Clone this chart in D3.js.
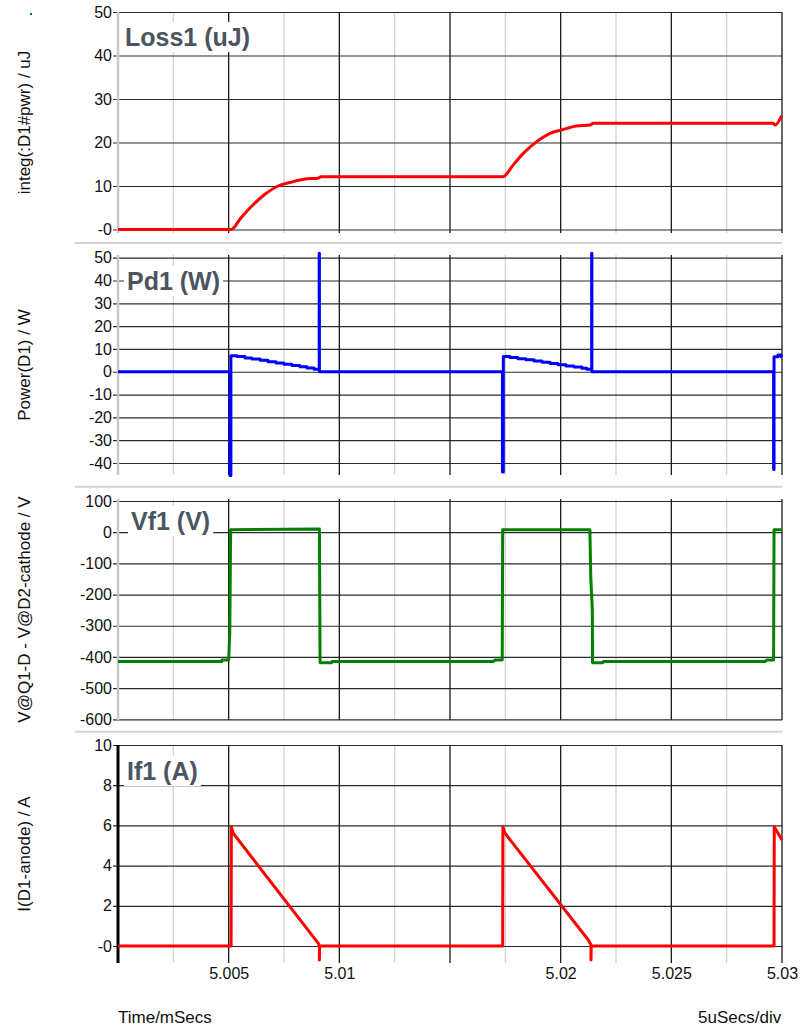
<!DOCTYPE html>
<html>
<head>
<meta charset="utf-8">
<script src="https://cdn.jsdelivr.net/npm/d3@7"></script>
<style>
  html, body { margin: 0; padding: 0; background: #fff; }
  svg { display: block; font-family: "Liberation Sans", Arial, sans-serif; }
</style>
</head>
<body>
<svg id="chart" width="808" height="1028"></svg>
<script>
// ---- time axis (ms) ----
const timeDomain = [5.000, 5.030];
const majorTimes = [5.005, 5.010, 5.015, 5.020, 5.025, 5.030];
const minorTimes = [5.0025, 5.0075, 5.0125, 5.0175, 5.0225, 5.0275];
const timeLabels = [5.005, 5.01, 5.02, 5.025, 5.03];

// ---- Loss1: integrated diode power (uJ) ----
const lossTicks = [0, 10, 20, 30, 40, 50];
const lossTickLabels = ["-0", "10", "20", "30", "40", "50"];
const lossTime = [5.00000, 5.00511, 5.00556, 5.00605, 5.00664, 5.00723, 5.00777, 5.00845, 5.00904, 5.00917,
                  5.01738, 5.01785, 5.01831, 5.01892, 5.01952, 5.02005, 5.02072, 5.02133, 5.02147,
                  5.02961, 5.02968, 5.02999];
const lossValue = [0, 0, 2.7, 5.4, 8.1, 10.0, 10.8, 11.6, 11.8, 12.1,
                   12.1, 14.8, 17.5, 20.2, 22.1, 22.9, 23.8, 24.0, 24.4,
                   24.4, 24.0, 26.2];

// ---- Pd1: diode power (W), held between samples ----
const pdTicks = [-40, -30, -20, -10, 0, 10, 20, 30, 40, 50];
const pdTickLabels = ["-40", "-30", "-20", "-10", "0", "10", "20", "30", "40", "50"];
const pdTime = [5.00000, 5.00506, 5.00510, 5.00538, 5.00574, 5.00605, 5.00642, 5.00678, 5.00714, 5.00750,
                5.00786, 5.00822, 5.00854, 5.00886, 5.00909, 5.00910,
                5.01737, 5.01741, 5.01771, 5.01807, 5.01843, 5.01880, 5.01916, 5.01952, 5.01988,
                5.02024, 5.02060, 5.02096, 5.02118, 5.02140, 5.02141,
                5.02962, 5.02964, 5.02982, 5.02996, 5.03000];
const pdValue = [0, -45.5, 7.0, 6.64, 6.07, 5.57, 5.0, 4.43, 3.86, 3.29,
                 2.71, 2.14, 1.64, 1.14, 52, 0,
                 -43.9, 6.7, 6.27, 5.74, 5.21, 4.68, 4.15, 3.63, 3.10,
                 2.57, 2.04, 1.51, 1.1, 52, 0,
                 -42.8, 6.6, 7.3, 6.6, 6.6];

// ---- Vf1: diode voltage (V) ----
const vfTicks = [-600, -500, -400, -300, -200, -100, 0, 100];
const vfTickLabels = ["-600", "-500", "-400", "-300", "-200", "-100", "0", "100"];
const vfTime = [5.00000, 5.00469, 5.00470, 5.00500, 5.00505, 5.00509, 5.00908, 5.00910, 5.00913, 5.00920,
                5.00965, 5.00967, 5.01695, 5.01703, 5.01736, 5.01738, 5.02132, 5.02136, 5.02143, 5.02144,
                5.02190, 5.02193, 5.02923, 5.02931, 5.02962, 5.02964, 5.03000];
const vfValue = [-415, -415, -410, -410, -320, 8, 10, 10, -418, -419,
                 -419, -415, -415, -410, -410, 8, 8, -144, -250, -419,
                 -419, -415, -415, -410, -410, 8, 8];

// ---- If1: diode current (A) ----
const ifTicks = [0, 2, 4, 6, 8, 10];
const ifTickLabels = ["-0", "2", "4", "6", "8", "10"];
const ifTime = [5.00000, 5.00511, 5.00512, 5.00521, 5.00905, 5.00910, 5.00910, 5.00911,
                5.01738, 5.01739, 5.01749, 5.02125, 5.02137, 5.02137, 5.02138,
                5.02964, 5.02965, 5.03000];
const ifValue = [0, 0, 5.93, 5.6, 0.13, 0, -0.7, 0,
                 0, 5.93, 5.6, 0.3, 0.05, -0.7, 0,
                 0, 5.93, 5.27];

// ---- layout ----
const plotLeft = 118, plotRight = 782, tickStart = 113;
const x = d3.scaleLinear().domain(timeDomain).range([plotLeft, plotRight]);

const panels = [
  { title: "Loss1 (uJ)", axisTitle: "integ(:D1#pwr) / uJ", ticks: lossTicks, labels: lossTickLabels,
    domain: [0, 50], range: [229.5, 12], grid: [12, 233], sep: 243,
    time: lossTime, value: lossValue, color: "#ff0000", curve: d3.curveMonotoneX,
    edge: "#c8c8c8", edgeWidth: 2.5, titlePos: [125, 46] },
  { title: "Pd1 (W)", axisTitle: "Power(D1) / W", ticks: pdTicks, labels: pdTickLabels,
    domain: [-40, 50], range: [463, 257.7], grid: [255, 475], sep: 486.7,
    time: pdTime, value: pdValue, color: "#0000ff", curve: d3.curveStepAfter,
    edge: "#c8c8c8", edgeWidth: 2.5, titlePos: [127, 290] },
  { title: "Vf1 (V)", axisTitle: "V@Q1-D - V@D2-cathode / V", ticks: vfTicks, labels: vfTickLabels,
    domain: [-600, 100], range: [719.3, 501], grid: [499, 720], sep: 731.7,
    time: vfTime, value: vfValue, color: "#008000", curve: d3.curveLinear,
    edge: "#c8c8c8", edgeWidth: 2.5, titlePos: [131, 530] },
  { title: "If1 (A)", axisTitle: "I(D1-anode) / A", ticks: ifTicks, labels: ifTickLabels,
    domain: [0, 10], range: [946, 745], grid: [745, 963], sep: null,
    time: ifTime, value: ifValue, color: "#ff0000", curve: d3.curveLinear,
    edge: "#000000", edgeWidth: 3, titlePos: [127, 780] }
];

const svg = d3.select("#chart");

// small marker dot in the corner
svg.append("rect").attr("x", 30).attr("y", 13).attr("width", 2).attr("height", 2).attr("fill", "#008000");

panels.forEach(p => {
  const y = d3.scaleLinear().domain(p.domain).range(p.range);
  const g = svg.append("g");

  // panel separator
  if (p.sep !== null) {
    g.append("line")
      .attr("x1", 75).attr("x2", plotRight)
      .attr("y1", p.sep).attr("y2", p.sep)
      .attr("stroke", "#d2d2d2").attr("stroke-width", 2);
  }

  // minor vertical grid
  g.append("g").selectAll("line").data(minorTimes).join("line")
    .attr("x1", d => x(d)).attr("x2", d => x(d))
    .attr("y1", p.grid[0]).attr("y2", p.grid[1])
    .attr("stroke", "#cfcfcf").attr("stroke-width", 1.2);

  // horizontal grid + value labels
  const yAxis = d3.axisLeft(y)
    .tickValues(p.ticks)
    .tickFormat((d, i) => p.labels[i])
    .tickSize(-(plotRight - tickStart))
    .tickPadding(1);
  const ag = g.append("g").attr("transform", `translate(${tickStart},0)`).call(yAxis);
  ag.select(".domain").remove();
  ag.selectAll(".tick line").attr("stroke", "#2a2a2a").attr("stroke-width", 1.2);
  ag.selectAll(".tick text")
    .attr("fill", "#111").attr("font-size", 16)
    .attr("font-family", "Liberation Sans, Arial, sans-serif");

  // major vertical grid
  g.append("g").selectAll("line").data(majorTimes).join("line")
    .attr("x1", d => x(d)).attr("x2", d => x(d))
    .attr("y1", p.grid[0]).attr("y2", p.grid[1])
    .attr("stroke", "#1a1a1a").attr("stroke-width", 1.3);

  // left edge of the plot
  g.append("line")
    .attr("x1", x(timeDomain[0])).attr("x2", x(timeDomain[0]))
    .attr("y1", p.grid[0]).attr("y2", p.grid[1])
    .attr("stroke", p.edge).attr("stroke-width", p.edgeWidth);

  // vertical axis title
  g.append("text")
    .attr("transform", `translate(29.5,${(p.grid[0] + p.grid[1]) / 2}) rotate(-90)`)
    .attr("text-anchor", "middle")
    .attr("font-size", 17)
    .attr("fill", "#111")
    .text(p.axisTitle);

  // waveform
  const pts = p.time.map((t, i) => [t, p.value[i]]);
  g.append("path")
    .datum(pts)
    .attr("fill", "none")
    .attr("stroke", p.color)
    .attr("stroke-width", 3)
    .attr("stroke-linejoin", "round")
    .attr("d", d3.line().x(d => x(d[0])).y(d => y(d[1])).curve(p.curve));

  // panel title with a white backing box
  const tg = g.append("g");
  const box = tg.append("rect").attr("fill", "#fff");
  const tt = tg.append("text")
    .attr("x", p.titlePos[0]).attr("y", p.titlePos[1])
    .attr("font-size", 25).attr("font-weight", "bold")
    .attr("fill", "#4a5561")
    .text(p.title);
  const bb = tt.node().getBBox();
  box.attr("x", bb.x - 3).attr("y", bb.y - 1).attr("width", bb.width + 6).attr("height", bb.height + 2);
});

// time axis labels
const xAxis = d3.axisBottom(x).tickValues(timeLabels).tickSize(0).tickPadding(5).tickFormat(d => String(d));
const xg = svg.append("g").attr("transform", "translate(0,963)").call(xAxis);
xg.select(".domain").remove();
xg.selectAll(".tick text").attr("fill", "#111").attr("font-size", 16)
  .attr("font-family", "Liberation Sans, Arial, sans-serif");

svg.append("text").attr("x", 118).attr("y", 1023).attr("font-size", 17).attr("fill", "#111").text("Time/mSecs");

svg.append("clipPath").attr("id", "divclip")
  .append("rect").attr("x", 0).attr("y", 990).attr("width", plotRight).attr("height", 38);
svg.append("text").attr("x", 698).attr("y", 1023).attr("font-size", 17).attr("fill", "#111")
  .attr("clip-path", "url(#divclip)").text("5uSecs/div");
</script>
</body>
</html>
